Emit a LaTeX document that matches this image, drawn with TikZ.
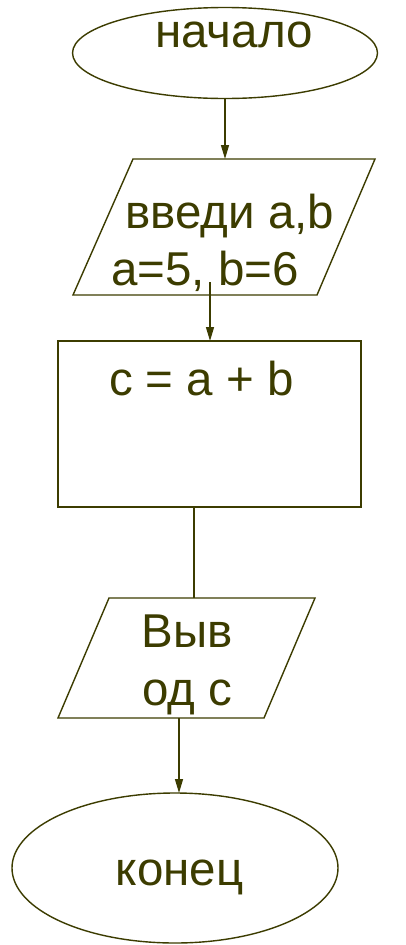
\documentclass[tikz,border=0pt]{standalone}
\usepackage{fontspec}
\setmainfont{Liberation Sans}
\usetikzlibrary{shapes.geometric,arrows.meta}
\definecolor{olive}{RGB}{60,60,0}
\begin{document}
\begin{tikzpicture}[x=1pt,y=-1pt,
  every node/.style={text=olive},
  lbl/.style={anchor=base,inner sep=0pt,font=\fontsize{47.5}{56}\selectfont},
  shapeline/.style={draw=olive,line width=1.4pt},
  conn/.style={draw=olive,line width=1.3pt},
  arr/.style={conn,-{Triangle[length=14pt,width=8pt]}},
  term/.style={shapeline,ellipse,inner sep=0pt,fill=white}]
\useasboundingbox (0,0) rectangle (405,945);
\fill[white] (0,0) rectangle (405,945);
% start ellipse
\node[term,minimum width=305pt,minimum height=91pt] (start) at (225,53) {};
\node[lbl] (starttxt) at (234,47) {начало};
% input parallelogram
\draw[shapeline] (133,159) -- (375,159) -- (317,295) -- (73,295) -- cycle;
\coordinate (p1top) at (225,159);
\node[lbl] (in1) at (230,228) {введи a,b};
\node[lbl] (in2) at (205,285) {a=5, b=6};
\coordinate (p1out) at (210,282);
% process box
\node[shapeline,rectangle,minimum width=303pt,minimum height=166pt,inner sep=0pt] (proc) at (209.5,424) {};
\node[lbl] (proctxt) at (201.5,395) {c = a + b};
\coordinate (rtop) at (210,341);
\coordinate (rbot) at (194,507);
% output parallelogram
\draw[shapeline] (109,598) -- (315,598) -- (264,718) -- (58,718) -- cycle;
\coordinate (p2top) at (194,598);
\coordinate (p2bot) at (179,718);
\node[lbl] (out1) at (187.5,647) {Выв};
\node[lbl] (out2) at (187.5,705) {од с};
% end ellipse
\node[term,minimum width=326pt,minimum height=150pt] (stop) at (175,868) {};
\node[lbl] (stoptxt) at (179.5,885) {конец};
\coordinate (etop) at (179,793);
% connectors
\draw[arr] (start.south) -- (p1top);
\draw[arr] (p1out) -- (rtop);
\draw[conn] (rbot) -- (p2top);
\draw[arr] (p2bot) -- (etop);
\end{tikzpicture}
\end{document}
